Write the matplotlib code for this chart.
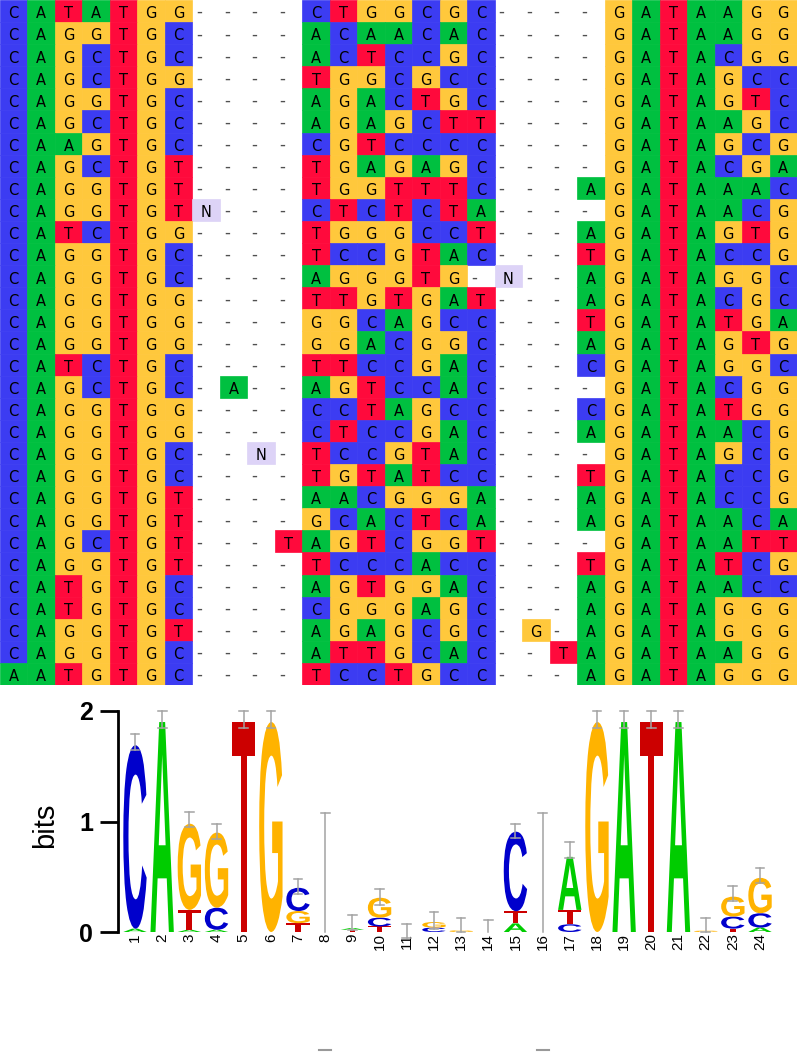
import matplotlib
matplotlib.use('Agg')
import matplotlib.pyplot as plt
from matplotlib.patches import Rectangle, PathPatch
from matplotlib.textpath import TextPath
from matplotlib.font_manager import FontProperties
from matplotlib.transforms import Affine2D

# ---------------- alignment data ----------------
left_block = ["CATATGG", "CAGGTGC", "CAGCTGC", "CAGCTGG", "CAGGTGC", "CAGCTGC", "CAAGTGC",
              "CAGCTGT", "CAGGTGT", "CAGGTGT", "CATCTGG", "CAGGTGC", "CAGGTGC", "CAGGTGG",
              "CAGGTGG", "CAGGTGG", "CATCTGC", "CAGCTGC", "CAGGTGG", "CAGGTGG", "CAGGTGC",
              "CAGGTGC", "CAGGTGT", "CAGGTGT", "CAGCTGT", "CAGGTGT", "CATGTGC", "CATGTGC",
              "CAGGTGT", "CAGGTGC", "AATGTGC"]
gap1_block = ["----"] * 9 + ["N---"] + ["----"] * 7 + ["-A--"] + ["----"] * 2 + ["--N-"] + \
             ["----"] * 3 + ["---T"] + ["----"] * 6
mid_block = ["CTGGCGC", "ACAACAC", "ACTCCGC", "TGGCGCC", "AGACTGC", "AGAGCTT", "CGTCCCC",
             "TGAGAGC", "TGGTTTC", "CTCTCTA", "TGGGCCT", "TCCGTAC", "AGGGTG-", "TTGTGAT",
             "GGCAGCC", "GGACGGC", "TTCCGAC", "AGTCCAC", "CCTAGCC", "CTCCGAC", "TCCGTAC",
             "TGTATCC", "AACGGGA", "GCACTCA", "AGTCGGT", "TCCCACC", "AGTGGAC", "CGGGAGC",
             "AGAGCGC", "ATTGCAC", "TCCTGCC"]
gap2_block = ["---"] * 12 + ["N--"] + ["---"] * 15 + ["-G-", "--T", "---"]
col22 = list("--------A-ATAATAC-CA-TAA-TAAAAA")
right_block = ["GATAAGG", "GATAAGG", "GATACGG", "GATAGCC", "GATAGTC", "GATAAGC", "GATAGCG",
               "GATACGA", "GATAAAC", "GATAACG", "GATAGTG", "GATACCG", "GATAGGC", "GATACGC",
               "GATATGA", "GATAGTG", "GATAGGC", "GATACGG", "GATATGG", "GATAACG", "GATAGCG",
               "GATACCG", "GATACCG", "GATAACA", "GATAATT", "GATATCG", "GATAACC", "GATAGGG",
               "GATAGGG", "GATAAGG", "GATAGGG"]
alignment = [a + b + c + d + e + f for a, b, c, d, e, f in
             zip(left_block, gap1_block, mid_block, gap2_block, col22, right_block)]

cell_colors = {"A": "#00c040", "C": "#3c3cf2", "G": "#ffc83c", "T": "#ff0a3c", "N": "#ddd3f7"}

# ---------------- logo data ----------------
positions = list(range(1, 25))
# stacks listed bottom -> top as (letter, height in bits)
stacks = [
    [("A", 0.03), ("C", 1.66)],
    [("A", 1.90)],
    [("A", 0.02), ("T", 0.18), ("G", 0.78)],
    [("A", 0.02), ("C", 0.20), ("G", 0.68)],
    [("T", 1.90)],
    [("G", 1.90)],
    [("T", 0.08), ("G", 0.11), ("C", 0.21)],
    [],
    [("T", 0.02), ("A", 0.015)],
    [("T", 0.05), ("C", 0.08), ("G", 0.18)],
    [],
    [("C", 0.04), ("G", 0.05)],
    [("G", 0.015)],
    [],
    [("A", 0.078), ("T", 0.11), ("C", 0.72)],
    [],
    [("C", 0.07), ("T", 0.13), ("A", 0.48)],
    [("G", 1.90)],
    [("A", 1.90)],
    [("T", 1.90)],
    [("A", 1.90)],
    [("G", 0.012)],
    [("T", 0.03), ("C", 0.11), ("G", 0.18)],
    [("A", 0.04), ("C", 0.13), ("G", 0.32)],
]
err_low = [1.65, 1.85, 0.95, 0.84, 1.85, 1.85, 0.34, 0.0, 0.02, 0.24, -0.05, 0.03,
           0.0, 0.0, 0.85, 0.0, 0.67, 1.85, 1.85, 1.85, 1.85, 0.0, 0.28, 0.44]
err_high = [1.79, 2.0, 1.09, 0.98, 2.0, 2.0, 0.48, 1.08, 0.15, 0.39, 0.07, 0.18,
            0.13, 0.11, 0.98, 1.08, 0.81, 2.0, 2.0, 2.0, 2.0, 0.13, 0.42, 0.58]
err_low_cap = [True] * 24
for p in (8, 14, 16):
    err_low_cap[p - 1] = False
gap_marks = [8, 16]

logo_colors = {"A": "#00cc00", "C": "#0000cc", "G": "#ffb300", "T": "#cc0000"}

# ---------------- figure ----------------
W, H = 797, 1054
fig = plt.figure(figsize=(W / 100, H / 100), dpi=100)

nrow = len(alignment)
ncol = len(alignment[0])
ax = fig.add_axes([0, 1 - 685 / H, 1, 685 / H])
ax.set_xlim(0, ncol)
ax.set_ylim(nrow, 0)
ax.axis('off')
for r, seq in enumerate(alignment):
    for c, ch in enumerate(seq):
        if ch in cell_colors:
            col = cell_colors[ch]
            ax.add_patch(Rectangle((c, r), 1, 1, facecolor=col, edgecolor=col, lw=0.5))
            ax.text(c + 0.5, r + 0.83, ch, ha='center', va='baseline',
                    fontsize=10.5, color='black', family='DejaVu Sans')
        else:
            ax.text(c + 0.25, r + 0.55, '-', ha='center', va='center',
                    fontsize=12, color='#505050', family='DejaVu Sans')

# logo axes
axl = fig.add_axes([118 / W, 1 - 932 / H, (773.6 - 118) / W, 221 / H])
axl.set_xlim(0.375, 24.5)
axl.set_ylim(0, 2)
for s in ('top', 'right', 'bottom'):
    axl.spines[s].set_visible(False)
axl.spines['left'].set_linewidth(2)
axl.set_xticks([])
axl.set_yticks([0, 1, 2])
axl.set_yticklabels(['0', '1', '2'], fontsize=18, fontweight='bold', family='Liberation Sans')
axl.tick_params(axis='y', length=13, width=2, pad=5)
axl.patch.set_alpha(0)

fp = FontProperties(family='Liberation Sans', weight='bold')
letter_w = 0.86


def draw_letter(a, ch, x, y0, h, w, color):
    tp = TextPath((0, 0), ch, size=1, prop=fp)
    bb = tp.get_extents()
    tr = Affine2D().translate(-bb.x0, -bb.y0).scale(w / bb.width, h / bb.height).translate(x - w / 2, y0)
    a.add_patch(PathPatch(tr.transform_path(tp), facecolor=color, edgecolor='none', lw=0))


for pos, stack in zip(positions, stacks):
    y = 0.0
    for ch, h in stack:
        draw_letter(axl, ch, pos, y, h, letter_w, logo_colors[ch])
        y += h

ecol = '#a3a3a3'
cap = 0.16
for pos, lo, hi, lc in zip(positions, err_low, err_high, err_low_cap):
    axl.plot([pos, pos], [lo, hi], color=ecol, lw=1.1, clip_on=False, zorder=5)
    axl.plot([pos - cap, pos + cap], [hi, hi], color=ecol, lw=1.1, clip_on=False, zorder=5)
    if lc:
        axl.plot([pos - cap, pos + cap], [lo, lo], color=ecol, lw=1.1, clip_on=False, zorder=5)

for pos in positions:
    axl.text(pos, -0.012, str(pos), rotation=90, ha='center', va='top',
             fontsize=11, family='Liberation Sans')

for pos in gap_marks:
    axl.plot([pos - 0.22, pos + 0.22], [-1.068, -1.068], color='#999999', lw=1.5, clip_on=False)

fig.text(45 / W, 1 - 825 / H, 'bits', rotation=90, ha='center', va='center',
         fontsize=21, family='Liberation Sans')

fig.savefig('out.png', dpi=100)
